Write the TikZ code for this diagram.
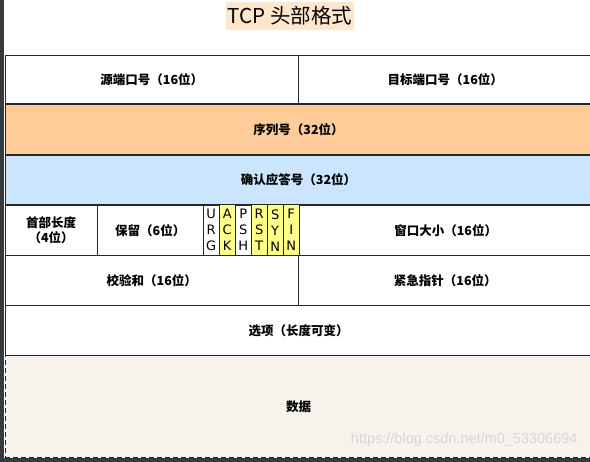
\documentclass[tikz,border=0pt]{standalone}
\usepackage{fontspec}
\setmainfont{Noto Sans CJK SC}
\newfontfamily\wmfont{Liberation Sans}
\newfontfamily\flagfont{DejaVu Sans}
\definecolor{linec}{HTML}{262626}
\definecolor{orangef}{HTML}{FFCC99}
\definecolor{bluef}{HTML}{CCE5FF}
\definecolor{yellowf}{HTML}{FFFF88}
\definecolor{titlef}{HTML}{FFE6CC}
\definecolor{dataf}{HTML}{F6F3EC}
\definecolor{edgef}{HTML}{343A40}
\tikzset{
  cell/.style={draw=linec, line width=1.1pt, inner sep=0pt, anchor=north west,
    minimum width=#1, align=center, font=\bfseries\fontsize{12.5}{15}\selectfont},
  flagbox/.style={draw=linec, line width=1pt, inner sep=0pt, anchor=north west,
    minimum width=16pt, minimum height=50.5pt, align=center,
    font=\flagfont\fontsize{13}{16}\selectfont},
}
\begin{document}
\begin{tikzpicture}[x=1pt,y=-1pt]
\useasboundingbox (0,0) rectangle (590,462);
\fill[white] (0,0) rectangle (590,462);
% screenshot edges
\fill[edgef] (0,0) rectangle (3.5,462);
\fill[edgef] (0,458.5) rectangle (590,462);
% title
\node[fill=titlef, inner sep=1pt, minimum width=128pt, minimum height=28pt,
  font=\fontsize{20.5}{24}\selectfont] (title) at (290,16) {TCP 头部格式};
% row 1
\node[cell=293.5pt, minimum height=48.5pt] (src) at (4.5,55) {源端口号（16位）};
\node[cell=293.5pt, minimum height=48.5pt] (dst) at (298,55) {目标端口号（16位）};
% row 2
\node[cell=587pt, minimum height=51pt, fill=orangef] (seq) at (4.5,103.5) {序列号（32位）};
% row 3
\node[cell=587pt, minimum height=50pt, fill=bluef] (ack) at (4.5,154.5) {确认应答号（32位）};
% row 4
\node[cell=92.2pt, minimum height=50.5pt] (hlen) at (4.5,204.5) {首部长度\\（4位）};
\node[cell=106pt, minimum height=50.5pt] (rsv) at (96.7,204.5) {保留（6位）};
\node[flagbox] (urg) at (202.7,204.5) {U\\R\\G};
\node[flagbox, fill=yellowf] (fack) at (218.7,204.5) {A\\C\\K};
\node[flagbox] (psh) at (234.7,204.5) {P\\S\\H};
\node[flagbox, fill=yellowf] (rst) at (250.7,204.5) {R\\S\\T};
\node[flagbox, fill=yellowf] (syn) at (266.7,204.5) {S\\Y\\N};
\node[flagbox, fill=yellowf] (fin) at (282.7,204.5) {F\\I\\N};
\node[cell=292.8pt, minimum height=50.5pt] (win) at (298.7,204.5) {窗口大小（16位）};
% row 5
\node[cell=293.5pt, minimum height=50pt] (csum) at (4.5,255) {校验和（16位）};
\node[cell=293.5pt, minimum height=50pt] (urgp) at (298,255) {紧急指针（16位）};
% row 6
\node[cell=587pt, minimum height=50pt] (opt) at (4.5,305) {选项（长度可变）};
% data
\node[cell=587pt, minimum height=102pt, fill=dataf, dashed, dash pattern=on 5pt off 3pt] (data) at (4.5,355) {数据};
% watermark
\node[text=black!16, font=\wmfont\fontsize{14.5}{17}\selectfont, anchor=east] (wm) at (581,440) {https://blog.csdn.net/m0\_53306694};
\end{tikzpicture}
\end{document}
